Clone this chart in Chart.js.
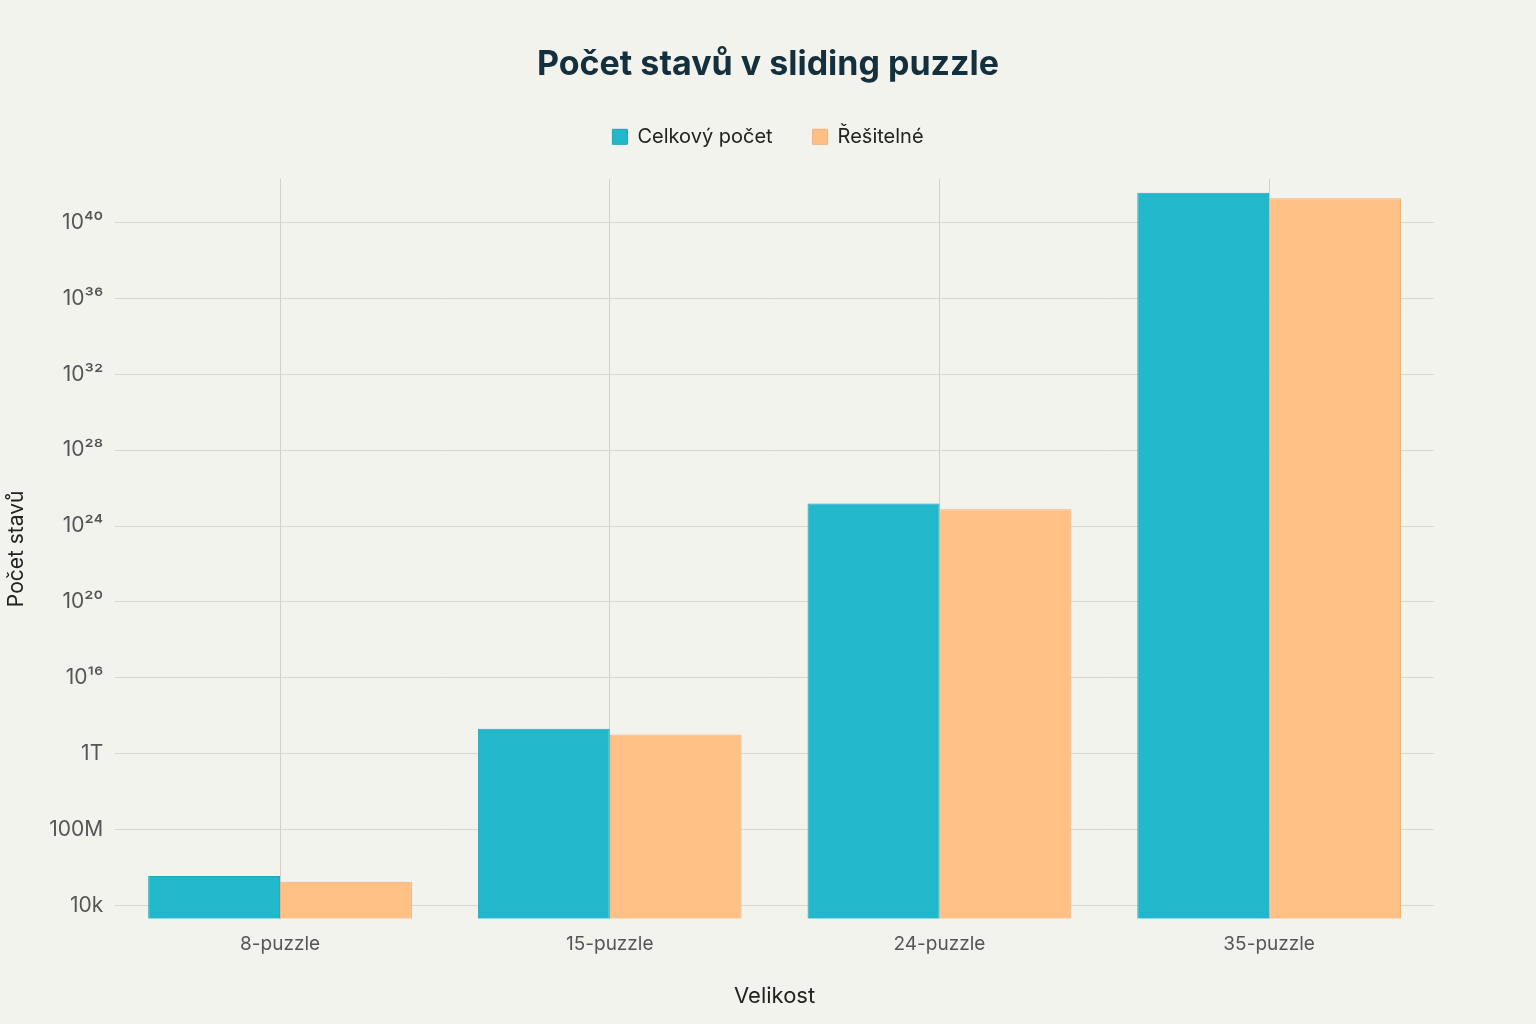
<!DOCTYPE html>
<html><head><meta charset="utf-8">
<script src="https://cdn.jsdelivr.net/npm/chart.js@4"></script>
<style>html,body{margin:0;background:#f3f3ee}#w{width:1536px;height:1024px}</style>
</head><body><div id="w"><canvas id="c"></canvas></div>
<script>
const categories = ["8-puzzle","15-puzzle","24-puzzle","35-puzzle"];
const totalStates = [362880, 2.092e13, 1.551e25, 3.72e41];
const solvableStates = [181440, 1.046e13, 7.756e24, 1.86e41];
const tickValues = [1e4, 1e8, 1e12, 1e16, 1e20, 1e24, 1e28, 1e32, 1e36, 1e40];
const tickLabels = ["10k","100M","1T","10¹⁶","10²⁰","10²⁴","10²⁸","10³²","10³⁶","10⁴⁰"];
const font = "Inter, 'Noto Sans', sans-serif";
const bg = {id:'bg',beforeDraw(c){const x=c.ctx;x.save();x.fillStyle='#f3f3ee';x.fillRect(0,0,c.width,c.height);x.restore();}};
const tweak = {id:'tweak',
 beforeLayout(c){const l=c.legend;if(l&&!l._patched){const f=l.fit.bind(l);l.fit=function(){f();this.height+=22;};l._patched=true;}},
 afterLayout(c){const d=51;[c.legend,c.titleBlock].forEach(b=>{if(b){b.left+=d;b.right+=d;}});}
};
new Chart(document.getElementById('c'),{
 type:'bar',
 data:{labels:categories,datasets:[
  {label:'Celkový počet',data:totalStates,backgroundColor:'#21b8cc',borderColor:'#1fa3b5',borderWidth:1},
  {label:'Řešitelné',data:solvableStates,backgroundColor:'#ffc085',borderColor:'#f0b07a',borderWidth:1}]},
 options:{responsive:true,maintainAspectRatio:false,animation:false,
  layout:{padding:{left:0,right:102,top:24,bottom:10}},
  datasets:{bar:{categoryPercentage:0.8,barPercentage:1}},
  plugins:{
   title:{display:true,text:'Počet stavů v sliding puzzle',color:'#13303c',font:{family:font,size:34,weight:'bold'},padding:{top:20,bottom:2}},
   legend:{labels:{boxWidth:15,boxHeight:15,color:'#222',font:{family:font,size:20},padding:40}}
  },
  scales:{
   x:{offset:true,grid:{offset:false,color:'#d0d0cc',drawTicks:false},border:{display:false},
      ticks:{color:'#555',font:{family:font,size:19},padding:14},
      title:{display:true,text:'Velikost',color:'#222',font:{family:font,size:22},padding:{top:14}}},
   y:{type:'logarithmic',min:2000,max:2e42,grid:{color:'#d8d8d3',drawTicks:false},border:{display:false},
      afterBuildTicks(s){s.ticks=tickValues.map(v=>({value:v}));},
      ticks:{color:'#555',font:{family:font,size:21},padding:12,
        callback(v){const i=tickValues.findIndex(t=>Math.abs(Math.log10(t)-Math.log10(v))<1e-6);return i>=0?tickLabels[i]:'';}},
      title:{display:true,text:'Počet stavů',color:'#222',font:{family:font,size:21},padding:{bottom:8}}}
  }},
 plugins:[bg,tweak]
});
</script></body></html>
